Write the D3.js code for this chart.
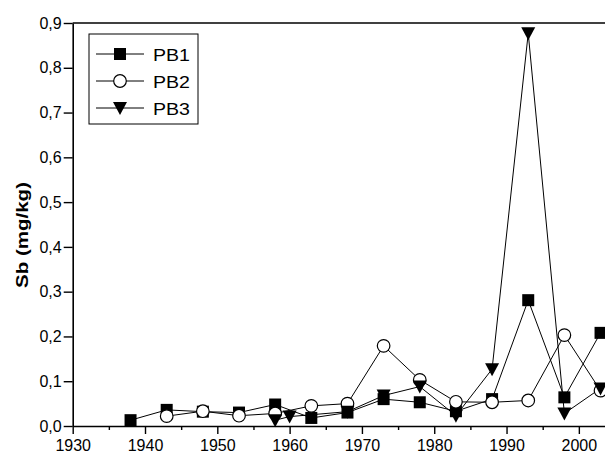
<!DOCTYPE html>
<html><head><meta charset="utf-8">
<script src="https://cdn.jsdelivr.net/npm/d3@7"></script>
<style>body{margin:0;background:#fff}svg{display:block}text{font-family:"Liberation Sans",Arial,sans-serif}</style>
</head><body><svg id="c" width="605" height="453"></svg>
<script>
const seriesNames = ["PB1","PB2","PB3"];
const pb1Years = [1938,1943,1948,1953,1958,1963,1968,1973,1978,1983,1988,1993,1998,2003];
const pb1Values = [0.013,0.036,0.032,0.030,0.048,0.018,0.030,0.060,0.053,0.033,0.060,0.281,0.064,0.208];
const pb2Years = [1943,1948,1953,1958,1963,1968,1973,1978,1983,1988,1993,1998,2003];
const pb2Values = [0.022,0.033,0.023,0.028,0.045,0.050,0.179,0.103,0.054,0.053,0.057,0.203,0.079];
const pb3Years = [1958,1960,1968,1973,1978,1983,1988,1993,1998,2003];
const pb3Values = [0.013,0.021,0.032,0.068,0.088,0.023,0.127,0.877,0.028,0.084];
const xTicks = [1930,1940,1950,1960,1970,1980,1990,2000];
const yTicks = [0,0.1,0.2,0.3,0.4,0.5,0.6,0.7,0.8,0.9];

const svg = d3.select("#c");
const x = d3.scaleLinear().domain([1930,2005]).range([72.7,615]);
const y = d3.scaleLinear().domain([0,0.9]).range([426,23]);

svg.append("defs").append("clipPath").attr("id","clip")
  .append("rect").attr("x",72).attr("y",10).attr("width",533).attr("height",430);

const fmt = d => d3.format(".1f")(d).replace(".",",");
const yAxis = svg.append("g").attr("transform","translate(72.7,0)")
  .call(d3.axisLeft(y).tickValues(yTicks).tickFormat(fmt).tickSize(9).tickSizeOuter(0));
const xAxis = svg.append("g").attr("transform","translate(0,426)")
  .call(d3.axisBottom(x).tickValues(xTicks).tickFormat(d3.format("d")).tickSize(8).tickSizeOuter(0));
svg.append("g").attr("transform","translate(0,426)")
  .call(d3.axisBottom(x).tickValues(xTicks.map(d=>d+5)).tickFormat("").tickSize(4).tickSizeOuter(0))
  .select(".domain").remove();
svg.selectAll(".domain").attr("stroke","#000").attr("stroke-width",1.6);
svg.selectAll(".tick line").attr("stroke","#000").attr("stroke-width",1.4);
svg.selectAll(".tick text").attr("font-size",16).attr("fill","#000").style("font-family","Liberation Sans, Arial, sans-serif");
yAxis.selectAll(".tick text").attr("x",-11);
xAxis.selectAll(".tick text").attr("y",14);
svg.append("line").attr("x1",72.7).attr("x2",605).attr("y1",y(0.9)).attr("y2",y(0.9)).attr("stroke","#000").attr("stroke-width",1.6);

svg.append("text").attr("transform","translate(28,235) rotate(-90)").attr("text-anchor","middle")
  .attr("font-size",17).attr("font-weight","bold")
  .attr("textLength",106).attr("lengthAdjust","spacingAndGlyphs").text("Sb (mg/kg)");

const series = [
  {name:seriesNames[0], years:pb1Years, vals:pb1Values, shape:"square"},
  {name:seriesNames[1], years:pb2Years, vals:pb2Values, shape:"circle"},
  {name:seriesNames[2], years:pb3Years, vals:pb3Values, shape:"tri"}
];
function drawMarker(g, shape, cx, cy){
  if(shape==="square") g.append("rect").attr("x",cx-6).attr("y",cy-6).attr("width",12).attr("height",12).attr("fill","#000");
  else if(shape==="circle") g.append("circle").attr("cx",cx).attr("cy",cy).attr("r",6.3).attr("fill","#fff").attr("stroke","#000").attr("stroke-width",1.2);
  else g.append("path").attr("d",`M${cx-7},${cy-6}L${cx+7},${cy-6}L${cx},${cy+7}Z`).attr("fill","#000");
}
const plot = svg.append("g").attr("clip-path","url(#clip)");
const line = d3.line().x(d=>x(d[0])).y(d=>y(d[1]));
series.forEach(s=>{
  const pts = s.years.map((yr,i)=>[yr,s.vals[i]]);
  plot.append("path").attr("d",line(pts)).attr("fill","none").attr("stroke","#000").attr("stroke-width",1);
});
series.forEach(s=>{
  s.years.forEach((yr,i)=>drawMarker(plot,s.shape,x(yr),y(s.vals[i])));
});

const lg = svg.append("g");
lg.append("rect").attr("x",89).attr("y",34).attr("width",109).attr("height",90).attr("fill","#fff").attr("stroke","#000").attr("stroke-width",1);
series.forEach((s,i)=>{
  const cy = 54+i*27;
  lg.append("line").attr("x1",96).attr("x2",144).attr("y1",cy).attr("y2",cy).attr("stroke","#000").attr("stroke-width",1);
  drawMarker(lg,s.shape,120,cy);
  lg.append("text").attr("x",153).attr("y",cy+7).attr("font-size",17)
    .attr("textLength",37).attr("lengthAdjust","spacingAndGlyphs").text(s.name);
});
</script></body></html>
